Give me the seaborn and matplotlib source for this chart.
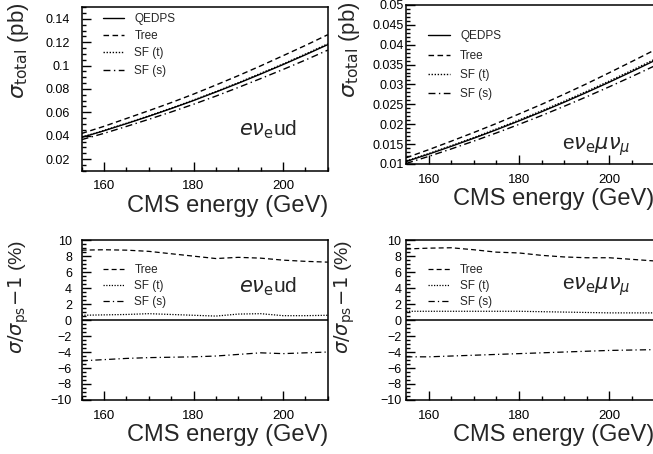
import matplotlib
matplotlib.use("Agg")
import pandas as pd
import matplotlib.pyplot as plt
import seaborn as sns
from matplotlib.ticker import MultipleLocator

# CMS energy grid (GeV)
energy = [155, 160, 165, 170, 175, 180, 185, 190, 195, 200, 205, 210]

# e nu_e u d : total cross section (pb)
ud_qedps = [0.0385, 0.0442, 0.0503, 0.0566, 0.0632, 0.0701, 0.0774, 0.0849, 0.0928, 0.1009, 0.1093, 0.1180]
ud_tree = [0.0419, 0.0480, 0.0547, 0.0614, 0.0683, 0.0756, 0.0834, 0.0914, 0.0998, 0.1085, 0.1173, 0.1265]
ud_sft = [0.0387, 0.0445, 0.0506, 0.0570, 0.0636, 0.0705, 0.0778, 0.0854, 0.0934, 0.1014, 0.1099, 0.1187]
ud_sfs = [0.0366, 0.0420, 0.0479, 0.0540, 0.0603, 0.0669, 0.0739, 0.0813, 0.0889, 0.0967, 0.1048, 0.1133]

# e nu_e mu nu_mu : total cross section (pb)
mn_qedps = [0.01060, 0.01246, 0.01442, 0.01646, 0.01859, 0.02081, 0.02311, 0.02551, 0.02799, 0.03056, 0.03323, 0.03597]
mn_tree = [0.01154, 0.01358, 0.01572, 0.01791, 0.02017, 0.02256, 0.02498, 0.02753, 0.03017, 0.03294, 0.03576, 0.03863]
mn_sft = [0.01072, 0.01260, 0.01458, 0.01664, 0.01879, 0.02104, 0.02335, 0.02577, 0.02826, 0.03084, 0.03353, 0.03629]
mn_sfs = [0.01011, 0.01189, 0.01377, 0.01574, 0.01779, 0.01994, 0.02216, 0.02449, 0.02690, 0.02940, 0.03198, 0.03464]

# deviation from QEDPS (%)
ud_tree_dev = [8.75, 8.8, 8.75, 8.6, 8.3, 8.0, 7.7, 7.85, 7.75, 7.5, 7.35, 7.25]
ud_sft_dev = [0.6, 0.65, 0.7, 0.8, 0.7, 0.6, 0.5, 0.75, 0.8, 0.55, 0.55, 0.6]
ud_sfs_dev = [-5.1, -4.95, -4.8, -4.7, -4.65, -4.6, -4.5, -4.3, -4.1, -4.2, -4.1, -4.0]

mn_tree_dev = [8.9, 9.0, 9.05, 8.8, 8.5, 8.4, 8.1, 7.9, 7.8, 7.8, 7.6, 7.4]
mn_sft_dev = [1.1, 1.1, 1.1, 1.1, 1.1, 1.1, 1.05, 1.0, 0.95, 0.9, 0.9, 0.9]
mn_sfs_dev = [-4.6, -4.6, -4.5, -4.4, -4.3, -4.2, -4.1, -4.0, -3.9, -3.8, -3.75, -3.7]

styles = {
    "QEDPS": "-",
    "Tree": (0, (4, 2.5)),
    "SF (t)": (0, (1, 1.2)),
    "SF (s)": (0, (5, 2.5, 1, 2.5)),
}

sns.set_theme(style="ticks")
plt.rcParams["font.family"] = ["Liberation Sans", "DejaVu Sans"]
plt.rcParams["mathtext.fontset"] = "dejavusans"

fig = plt.figure(figsize=(6.53, 4.54), dpi=100)
ax_tl = fig.add_axes([0.125, 0.624, 0.377, 0.360])
ax_tr = fig.add_axes([0.622, 0.639, 0.380, 0.350])
ax_bl = fig.add_axes([0.125, 0.119, 0.377, 0.352])
ax_br = fig.add_axes([0.622, 0.119, 0.380, 0.352])


def style_axis(ax, ylim, ymaj, ymin, ylabel, ypad, lab_x, lab_y, lab_size):
    ax.set_xlim(155, 210)
    ax.set_ylim(*ylim)
    ax.xaxis.set_major_locator(MultipleLocator(20))
    ax.xaxis.set_minor_locator(MultipleLocator(5))
    ax.yaxis.set_major_locator(MultipleLocator(ymaj))
    ax.yaxis.set_minor_locator(MultipleLocator(ymin))
    ax.tick_params(which="both", direction="in", top=False, right=False,
                   colors="black", width=1.0, labelsize=9.5)
    ax.tick_params(which="major", length=6.5)
    ax.tick_params(which="minor", length=3.2)
    ax.tick_params(axis="x", pad=7)
    ax.tick_params(axis="y", pad=ypad, labelsize=9)
    for sp in ax.spines.values():
        sp.set_visible(True)
        sp.set_linewidth(1.1)
        sp.set_color("black")
    ax.set_xlabel("CMS energy (GeV)", fontsize=17, ha="right", x=1.0, labelpad=2)
    ax.set_ylabel(ylabel, fontsize=lab_size, ha="right")
    ax.yaxis.set_label_coords(lab_x, lab_y)


def draw_total(ax, qedps, tree, sft, sfs):
    for name, vals in [("QEDPS", qedps), ("Tree", tree), ("SF (t)", sft), ("SF (s)", sfs)]:
        df = pd.DataFrame({"E": energy, "v": vals})
        sns.lineplot(data=df, x="E", y="v", ax=ax, color="black", linewidth=1.0,
                     linestyle=styles[name], label=name)


def draw_dev(ax, tree, sft, sfs):
    ax.axhline(0, color="black", linewidth=1.1)
    for name, vals in [("Tree", tree), ("SF (t)", sft), ("SF (s)", sfs)]:
        df = pd.DataFrame({"E": energy, "v": vals})
        sns.lineplot(data=df, x="E", y="v", ax=ax, color="black", linewidth=0.9,
                     linestyle=styles[name], label=name)


draw_total(ax_tl, ud_qedps, ud_tree, ud_sft, ud_sfs)
draw_total(ax_tr, mn_qedps, mn_tree, mn_sft, mn_sfs)
draw_dev(ax_bl, ud_tree_dev, ud_sft_dev, ud_sfs_dev)
draw_dev(ax_br, mn_tree_dev, mn_sft_dev, mn_sfs_dev)

ylab_tot = r"$\sigma_{\rm total}$ (pb)"
ylab_dev = r"$\sigma/\sigma_{\rm ps}\!-\!1$ (%)"
style_axis(ax_tl, (0.01, 0.15), 0.02, 0.005, ylab_tot, 8.5, -0.205, 1.03, 16)
style_axis(ax_tr, (0.01, 0.05), 0.005, 0.001, ylab_tot, 1.5, -0.18, 1.02, 16)
style_axis(ax_bl, (-10, 10), 2, 0.5, ylab_dev, 7, -0.207, 1.0, 14)
style_axis(ax_br, (-10, 10), 2, 0.5, ylab_dev, 3.5, -0.198, 1.0, 14)

ax_tl.set_yticks([0.02, 0.04, 0.06, 0.08, 0.10, 0.12, 0.14])
ax_tl.set_yticklabels(["0.02", "0.04", "0.06", "0.08", "0.1", "0.12", "0.14"])
ax_tr.set_yticks([0.01, 0.015, 0.02, 0.025, 0.03, 0.035, 0.04, 0.045, 0.05])
ax_tr.set_yticklabels(["0.01", "0.015", "0.02", "0.025", "0.03", "0.035", "0.04", "0.045", "0.05"])

leg_kw = dict(frameon=False, fontsize=8.5, handlelength=1.85, handletextpad=0.85,
              borderaxespad=0.0, loc="upper left")
ax_tl.legend(bbox_to_anchor=(0.066, 0.995), labelspacing=0.45, **leg_kw)
ax_tr.legend(bbox_to_anchor=(0.07, 0.87), labelspacing=0.62, **leg_kw)
ax_bl.legend(bbox_to_anchor=(0.066, 0.88), labelspacing=0.35, **leg_kw)
ax_br.legend(bbox_to_anchor=(0.07, 0.88), labelspacing=0.35, **leg_kw)

ax_tl.text(0.64, 0.25, r"$e\nu_{\rm e}$ud", transform=ax_tl.transAxes,
           fontsize=15, va="center", ha="left")
ax_tr.text(0.63, 0.11, r"e$\nu_{\rm e}\mu\nu_{\mu}$", transform=ax_tr.transAxes,
           fontsize=15, va="center", ha="left")
ax_bl.text(0.64, 0.71, r"$e\nu_{\rm e}$ud", transform=ax_bl.transAxes,
           fontsize=15, va="center", ha="left")
ax_br.text(0.63, 0.71, r"e$\nu_{\rm e}\mu\nu_{\mu}$", transform=ax_br.transAxes,
           fontsize=15, va="center", ha="left")

fig.savefig("out.png", dpi=100)
